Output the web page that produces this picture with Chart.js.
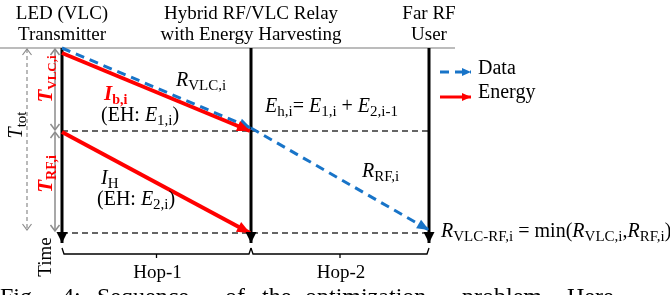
<!DOCTYPE html>
<html>
<head>
<meta charset="utf-8">
<script src="https://cdn.jsdelivr.net/npm/chart.js@4.4.1/dist/chart.umd.min.js"></script>
<style>
  html, body { margin: 0; padding: 0; background: #fff; }
  #wrap { width: 670px; height: 295px; }
</style>
</head>
<body>
<div id="wrap"><canvas id="diagram" width="670" height="295"></canvas></div>
<script>
/* nodes of the relay link (x on the page scale) */
var nodeNames = [["LED (VLC)", "Transmitter"], ["Hybrid RF/VLC Relay", "with Energy Harvesting"], ["Far RF", "User"]];
var nodeX = [62, 251, 429];
/* time instants: start, end of VLC slot, end of RF slot (y grows downwards) */
var timeY = [48, 131, 233];
var timeEnd = 243;
var hopLabels = ["Hop-1", "Hop-2"];
var legendLabels = ["Data", "Energy"];

var BLUE = "#1874c8";
var RED = "#ff0000";
var GREY = "#8c8c8c";
var SERIF = '"Liberation Serif", "Times New Roman", serif';

function seg(x1, y1, x2, y2){
	return [{x: x1, y: y1}, {x: x2, y: y2}];
}

var datasets = [];

/* data flow (blue dashed) */
datasets.push({data: seg(nodeX[0], timeY[0], nodeX[1], timeY[1] - 3), borderColor: BLUE, borderWidth: 3, borderDash: [9, 6], arrow: {end: "fill", size: 12, width: 10}});
datasets.push({data: seg(nodeX[1], timeY[1] - 3, nodeX[2], timeY[2] - 3), borderColor: BLUE, borderWidth: 3, borderDash: [9, 6], arrow: {end: "fill", size: 12, width: 10}});
/* energy flow (red) */
datasets.push({data: seg(nodeX[0], timeY[0] + 5, nodeX[1] - 1, timeY[1]), borderColor: RED, borderWidth: 4, arrow: {end: "fill", size: 13, width: 11}});
datasets.push({data: seg(nodeX[0], timeY[1] + 1, nodeX[1] - 1, timeY[2]), borderColor: RED, borderWidth: 4, arrow: {end: "fill", size: 13, width: 11}});

/* time axes of each node */
for(var n = 0; n < nodeX.length; n++){
	datasets.push({data: seg(nodeX[n], timeY[0], nodeX[n], timeEnd), borderColor: "#000", borderWidth: 3, arrow: {end: "fill", size: 11, width: 11}});
}

/* slot boundaries */
datasets.push({data: seg(0, timeY[0], 455, timeY[0]), borderColor: "#a6a6a6", borderWidth: 1.5});
for(var k = 1; k < timeY.length; k++){
	datasets.push({data: seg(nodeX[0], timeY[k], nodeX[2], timeY[k]), borderColor: "#333", borderWidth: 1.5, borderDash: [6, 4]});
}

/* slot durations */
datasets.push({data: seg(55, timeY[0] + 1, 55, timeY[1] - 1), borderColor: GREY, borderWidth: 1.5, arrow: {start: "open", end: "open", size: 6, width: 9}});
datasets.push({data: seg(55, timeY[1] + 1, 55, timeY[2] - 2), borderColor: GREY, borderWidth: 1.5, arrow: {start: "open", end: "open", size: 6, width: 9}});
datasets.push({data: seg(27, timeY[0] + 1, 27, timeY[2] - 3), borderColor: GREY, borderWidth: 1.2, borderDash: [4, 3], arrow: {start: "open", end: "open", size: 6, width: 9}});

/* hop brackets */
var by = 254;
for(var h = 0; h < hopLabels.length; h++){
	var xa = nodeX[h], xb = nodeX[h + 1], xm = (xa + xb) / 2;
	datasets.push({data: [{x: xa, y: by - 6}, {x: xa + 2, y: by}, {x: xb - 2, y: by}, {x: xb, y: by - 6}], borderColor: "#000", borderWidth: 1.3});
	datasets.push({data: seg(xm, by, xm, by + 4), borderColor: "#000", borderWidth: 1.3});
}

/* legend samples */
datasets.push({data: seg(440, 72, 471, 72), borderColor: BLUE, borderWidth: 3, borderDash: [9, 6], arrow: {end: "fill", size: 9, width: 8}});
datasets.push({data: seg(440, 97, 471, 97), borderColor: RED, borderWidth: 3, arrow: {end: "fill", size: 9, width: 8}});

for(var d = 0; d < datasets.length; d++){
	datasets[d].showLine = true;
	datasets[d].pointRadius = 0;
	datasets[d].fill = false;
	datasets[d].tension = 0;
}

function drawHead(ctx, x1, y1, x2, y2, style, color, size, width, lw){
	var a = Math.atan2(y2 - y1, x2 - x1);
	ctx.save();
	ctx.translate(x2, y2);
	ctx.rotate(a);
	ctx.setLineDash([]);
	if(style == "fill"){
		ctx.fillStyle = color;
		ctx.beginPath();
		ctx.moveTo(0, 0);
		ctx.lineTo(-size, -width / 2);
		ctx.lineTo(-size, width / 2);
		ctx.closePath();
		ctx.fill();
	}
	else{
		ctx.strokeStyle = color;
		ctx.lineWidth = lw;
		ctx.beginPath();
		ctx.moveTo(-size, -width / 2);
		ctx.lineTo(0, 0);
		ctx.lineTo(-size, width / 2);
		ctx.stroke();
	}
	ctx.restore();
}

var arrowPlugin = {
	id: "arrows",
	afterDatasetsDraw: function(chart){
		var ctx = chart.ctx;
		chart.data.datasets.forEach(function(ds, i){
			if(!ds.arrow){ return; }
			var pts = chart.getDatasetMeta(i).data;
			var p0 = pts[0], p1 = pts[1], q1 = pts[pts.length - 2], q0 = pts[pts.length - 1];
			if(ds.arrow.end){ drawHead(ctx, q1.x, q1.y, q0.x, q0.y, ds.arrow.end, ds.borderColor, ds.arrow.size, ds.arrow.width, ds.borderWidth); }
			if(ds.arrow.start){ drawHead(ctx, p1.x, p1.y, p0.x, p0.y, ds.arrow.start, ds.borderColor, ds.arrow.size, ds.arrow.width, ds.borderWidth); }
		});
	}
};

/* rich text: parts are [text, flags] with i = italic, b = bold, s = subscript */
function fontOf(flags, size, sub){
	return (flags.indexOf("i") >= 0 ? "italic " : "") + (flags.indexOf("b") >= 0 ? "bold " : "") + (flags.indexOf("s") >= 0 ? sub : size) + "px " + SERIF;
}
function rich(ctx, parts, x, y, opt){
	var size = opt.size || 19, sub = opt.sub || 13, color = opt.color || "#000";
	var total = 0;
	for(var i = 0; i < parts.length; i++){
		ctx.font = fontOf(parts[i][1] || "", size, sub);
		total += ctx.measureText(parts[i][0]).width;
	}
	var cx = x;
	if(opt.align == "center"){ cx = x - total / 2; }
	ctx.fillStyle = color;
	ctx.textBaseline = "alphabetic";
	ctx.textAlign = "left";
	for(var j = 0; j < parts.length; j++){
		var f = parts[j][1] || "";
		ctx.font = fontOf(f, size, sub);
		ctx.fillText(parts[j][0], cx, y + (f.indexOf("s") >= 0 ? 4 : 0));
		cx += ctx.measureText(parts[j][0]).width;
	}
}
function richRot(ctx, parts, cx, cy, opt){
	ctx.save();
	ctx.translate(cx, cy);
	ctx.rotate(-Math.PI / 2);
	opt.align = "center";
	rich(ctx, parts, 0, 7, opt);
	ctx.restore();
}

var textPlugin = {
	id: "labels",
	afterDraw: function(chart){
		var ctx = chart.ctx;
		var xs = chart.scales.x;
		for(var n = 0; n < nodeNames.length; n++){
			var px = xs.getPixelForValue(nodeX[n]);
			rich(ctx, [[nodeNames[n][0]]], px, 19, {align: "center"});
			rich(ctx, [[nodeNames[n][1]]], px, 40, {align: "center"});
		}
		for(var h = 0; h < hopLabels.length; h++){
			rich(ctx, [[hopLabels[h]]], xs.getPixelForValue((nodeX[h] + nodeX[h + 1]) / 2) + 1, 278, {align: "center"});
		}
		rich(ctx, [[legendLabels[0]]], 478, 74, {size: 20});
		rich(ctx, [[legendLabels[1]]], 478, 98, {size: 20});

		rich(ctx, [["R", "i"], ["VLC,i", "s"]], 176, 86, {size: 20, sub: 15});
		rich(ctx, [["I", "bi"], ["b,i", "bs"]], 104, 100, {size: 21, sub: 14, color: RED});
		rich(ctx, [["(EH: "], ["E", "i"], ["1,i", "s"], [")"]], 101, 121, {size: 20, sub: 15});
		rich(ctx, [["E", "i"], ["h,i", "s"], ["= "], ["E", "i"], ["1,i", "s"], [" + "], ["E", "i"], ["2,i-1", "s"]], 265, 112, {size: 20, sub: 15});
		rich(ctx, [["R", "i"], ["RF,i", "s"]], 362, 177, {size: 20, sub: 15});
		rich(ctx, [["I", "i"], ["H", "s"]], 101, 184, {size: 20, sub: 15});
		rich(ctx, [["(EH: "], ["E", "i"], ["2,i", "s"], [")"]], 97, 205, {size: 20, sub: 15});
		rich(ctx, [["R", "i"], ["VLC-RF,i", "s"], [" = min("], ["R", "i"], ["VLC,i", "s"], [","], ["R", "i"], ["RF,i", "s"], [")"]], 441, 237, {size: 20, sub: 15});

		richRot(ctx, [["T", "i"], ["tot", "s"]], 15, 125, {size: 20, sub: 15});
		richRot(ctx, [["T", "bi"], ["VLC,i", "bs"]], 45, 79, {size: 21, sub: 13, color: RED});
		richRot(ctx, [["T", "bi"], ["RF,i", "bs"]], 45, 174, {size: 21, sub: 14, color: RED});
		richRot(ctx, [["Time"]], 44, 257, {size: 19});

		/* start of the caption below the figure */
		var words = [["Fig.", 0], ["4:", 62], ["Sequence", 97], ["of", 225], ["the", 262], ["optimization", 305], ["problem.", 462], ["Here", 567]];
		for(var w = 0; w < words.length; w++){
			rich(ctx, [[words[w][0]]], words[w][1], 304, {size: 24});
		}
	}
};

var chart = new Chart(document.getElementById("diagram"), {
	type: "scatter",
	data: {datasets: datasets},
	options: {
		responsive: false,
		animation: false,
		events: [],
		layout: {padding: 0},
		plugins: {legend: {display: false}, tooltip: {enabled: false}},
		scales: {
			x: {type: "linear", min: 0, max: 670, display: false},
			y: {type: "linear", min: 0, max: 295, reverse: true, display: false}
		}
	},
	plugins: [arrowPlugin, textPlugin]
});
</script>
</body>
</html>
